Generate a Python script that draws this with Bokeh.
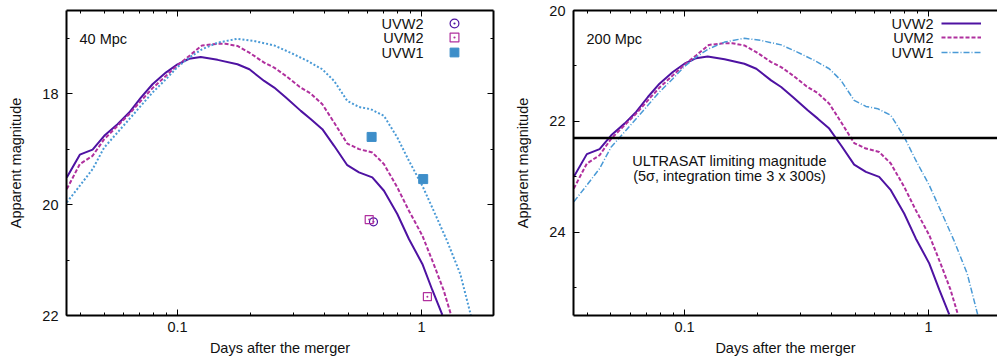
from bokeh.plotting import figure
from bokeh.models import (Range1d, LinearAxis, LogAxis, FixedTicker, SingleIntervalTicker,
                          Span, Label, Legend, LegendItem, CustomJSTickFormatter)
from bokeh.layouts import row
from bokeh.embed import file_html
from bokeh.resources import INLINE

FONT = "Liberation Sans"
FS = "14.5px"
C_W2 = "#4e12a2"
C_M2 = "#b0309e"
C_W1 = "#4a9ad6"
C_W1_PT = "#3d8ec9"

# ---------------- data ----------------
# 40 Mpc model light curves (days, apparent magnitude)
t_w2 = [0.0352, 0.0398, 0.0449, 0.0501, 0.0568, 0.0634, 0.0708, 0.079, 0.0896, 0.1, 0.1116,
        0.1245, 0.146, 0.176, 0.197, 0.2265, 0.249, 0.278, 0.32, 0.352, 0.392, 0.438, 0.496,
        0.554, 0.628, 0.701, 0.795, 0.887, 1.007, 1.106, 1.216]
m_w2_40 = [19.51, 19.10, 19.01, 18.76, 18.55, 18.34, 18.07, 17.83, 17.62, 17.47, 17.37,
           17.34, 17.39, 17.47, 17.56, 17.77, 17.89, 18.07, 18.31, 18.46, 18.64, 18.94, 19.29,
           19.42, 19.51, 19.75, 20.17, 20.62, 21.07, 21.54, 21.99]
m_w2_200 = [23.00, 22.59, 22.50, 22.25, 22.04, 21.83, 21.56, 21.32, 21.11, 20.96, 20.86,
            20.83, 20.88, 20.96, 21.05, 21.26, 21.38, 21.56, 21.80, 21.95, 22.13, 22.43, 22.78,
            22.91, 23.00, 23.24, 23.66, 24.11, 24.56, 25.03, 25.48]

t_m2 = [0.0352, 0.0398, 0.0449, 0.0501, 0.0568, 0.0634, 0.0708, 0.079, 0.0896, 0.1, 0.1116,
        0.126, 0.146, 0.157, 0.176, 0.197, 0.2265, 0.249, 0.278, 0.317, 0.352, 0.392, 0.438,
        0.496, 0.554, 0.628, 0.701, 0.795, 0.887, 1.007, 1.12, 1.23, 1.32]
m_m2_40 = [19.72, 19.27, 19.12, 18.82, 18.58, 18.37, 18.13, 17.90, 17.68, 17.49, 17.32,
           17.13, 17.10, 17.10, 17.14, 17.26, 17.44, 17.53, 17.68, 17.88, 18.00, 18.19, 18.52,
           18.90, 19.00, 19.06, 19.27, 19.69, 20.11, 20.56, 21.07, 21.54, 21.99]
m_m2_200 = [23.21, 22.76, 22.61, 22.31, 22.07, 21.86, 21.62, 21.39, 21.17, 20.98, 20.81,
            20.62, 20.59, 20.59, 20.63, 20.75, 20.93, 21.02, 21.17, 21.37, 21.49, 21.68, 22.01,
            22.39, 22.49, 22.55, 22.76, 23.18, 23.60, 24.05, 24.56, 25.03, 25.48]

t_w1 = [0.0352, 0.0398, 0.0449, 0.0501, 0.0568, 0.0634, 0.0708, 0.079, 0.0896, 0.1, 0.1116,
        0.126, 0.146, 0.176, 0.206, 0.249, 0.29, 0.341, 0.392, 0.438, 0.496, 0.554, 0.619,
        0.701, 0.795, 0.887, 1.007, 1.12, 1.27, 1.44, 1.59]
m_w1_40 = [19.96, 19.66, 19.36, 18.97, 18.70, 18.46, 18.22, 17.98, 17.74, 17.52, 17.35,
           17.20, 17.08, 17.01, 17.05, 17.13, 17.26, 17.41, 17.56, 17.77, 18.13, 18.24, 18.28,
           18.40, 18.79, 19.21, 19.66, 20.11, 20.65, 21.25, 21.99]
m_w1_200 = [23.45, 23.15, 22.85, 22.46, 22.19, 21.95, 21.71, 21.47, 21.23, 21.01, 20.84,
            20.69, 20.57, 20.50, 20.54, 20.62, 20.75, 20.90, 21.05, 21.26, 21.62, 21.73, 21.77,
            21.89, 22.28, 22.70, 23.15, 23.60, 24.14, 24.74, 25.48]

# Swift/UVOT observations (40 Mpc panel)
obs_w2_t = [0.635]
obs_w2_m = [20.31]
obs_m2_t = [0.61, 1.056]
obs_m2_m = [20.27, 21.66]
obs_w1_t = [0.624, 1.015]
obs_w1_m = [18.78, 19.54]

ULTRASAT_LIMIT = 22.3

X_MAJOR = [0.1, 1]
X_MINOR = [0.04, 0.05, 0.06, 0.07, 0.08, 0.09, 0.2, 0.3, 0.4, 0.5, 0.6, 0.7, 0.8, 0.9, 2]
X_LIMITS_LEFT = (0.0351, 1.97)
X_LIMITS_RIGHT = (0.0351, 1.918)
Y_LIMITS_LEFT = (16.5, 22)
Y_LIMITS_RIGHT = (20, 25.5)

BANDS = ["UVW2", "UVM2", "UVW1"]

# ---------------- helpers ----------------
H = 362
MB_TOP = 10
MB_BOTTOM = 47
FRAME_H = H - MB_TOP - MB_BOTTOM   # 305


def style_axis(ax, show_labels):
    ax.major_tick_in = 6
    ax.major_tick_out = 0
    ax.minor_tick_in = 3
    ax.minor_tick_out = 0
    ax.axis_line_width = 2
    ax.axis_line_color = "black"
    ax.major_tick_line_width = 1
    ax.minor_tick_line_width = 1
    ax.major_label_text_font = FONT
    ax.major_label_text_font_size = FS if show_labels else "1px"
    ax.major_label_text_color = "#111111" if show_labels else None
    ax.axis_label_text_font = FONT
    ax.axis_label_text_font_size = FS
    ax.axis_label_text_font_style = "normal"
    ax.axis_label_text_color = "#111111"


def x_ticker():
    return FixedTicker(ticks=X_MAJOR, minor_ticks=X_MINOR)


def make_fig(xlim, ylim, width, mbl, mbr, mirror_right):
    p = figure(width=width, height=H, x_axis_type="log",
               x_range=Range1d(*xlim), y_range=Range1d(ylim[1], ylim[0]),
               output_backend="svg", toolbar_location=None,
               min_border_left=mbl, min_border_right=mbr,
               min_border_top=MB_TOP, min_border_bottom=MB_BOTTOM)
    p.grid.visible = False
    p.outline_line_color = None
    p.background_fill_color = "white"
    p.border_fill_color = "white"

    xa = p.xaxis[0]
    xa.ticker = x_ticker()
    xa.formatter = CustomJSTickFormatter(code="return String(tick);")
    style_axis(xa, True)
    xa.major_label_standoff = 6
    xa.axis_label = "Days after the merger"
    xa.axis_label_standoff = 5

    ya = p.yaxis[0]
    ya.ticker = SingleIntervalTicker(interval=2, num_minor_ticks=2)
    style_axis(ya, True)
    ya.major_label_standoff = 8
    ya.axis_label = "Apparent magnitude"
    ya.axis_label_standoff = 15

    top = LogAxis(ticker=x_ticker(), major_label_standoff=0)
    style_axis(top, False)
    p.add_layout(top, "above")
    if mirror_right:
        ra = LinearAxis(ticker=SingleIntervalTicker(interval=2, num_minor_ticks=2),
                        major_label_standoff=0)
        style_axis(ra, False)
        p.add_layout(ra, "right")
    return p


def add_text(p, x, y_from_top, text, align="left"):
    p.add_layout(Label(x=x, y=FRAME_H - y_from_top, x_units="screen", y_units="screen",
                       text=text, text_font=FONT, text_font_size=FS, text_color="#111111",
                       text_align=align, text_baseline="middle"))


def key(p, renderer, x_left, y_center_from_top, glyph_width):
    # one legend key (glyph only), placed from the frame's bottom-left corner
    gh = 22
    leg = Legend(items=[LegendItem(label=" ", renderers=[renderer])],
                 location=(x_left, FRAME_H - y_center_from_top - gh / 2),
                 margin=0, padding=0, spacing=0, glyph_height=gh,
                 glyph_width=glyph_width, label_standoff=0,
                 label_text_font_size="1px", label_width=1, label_height=1,
                 border_line_color=None, background_fill_alpha=0)
    p.add_layout(leg, "center")


KEY_ROWS = [13, 27, 42]   # row centres, px below the frame top

# ---------------- left panel: 40 Mpc ----------------
p1 = make_fig(X_LIMITS_LEFT, Y_LIMITS_LEFT, 505, 66, 12, True)
p1.line(t_w2, m_w2_40, line_color=C_W2, line_width=2)
p1.line(t_m2, m_m2_40, line_color=C_M2, line_width=2, line_dash="4 2")
p1.line(t_w1, m_w1_40, line_color=C_W1, line_width=2, line_dash="2 2")
s_w2 = p1.scatter(obs_w2_t, obs_w2_m, marker="circle_dot", size=8, fill_color=None,
                  line_color=C_W2, line_width=1.2)
s_m2 = p1.scatter(obs_m2_t, obs_m2_m, marker="square_dot", size=8, fill_color=None,
                  line_color=C_M2, line_width=1.2)
s_w1 = p1.scatter(obs_w1_t, obs_w1_m, marker="square", size=9, fill_color=C_W1_PT,
                  line_color=C_W1_PT, line_width=1)
for r, yc, name in zip([s_w2, s_m2, s_w1], KEY_ROWS, BANDS):
    key(p1, r, 377, yc, 22)
    add_text(p1, 357, yc, name, "right")
add_text(p1, 13, 28, "40 Mpc")

# ---------------- right panel: 200 Mpc ----------------
p2 = make_fig(X_LIMITS_RIGHT, Y_LIMITS_RIGHT, 492, 68, 0, False)
p2.add_layout(Span(location=ULTRASAT_LIMIT, dimension="width", line_color="black",
                   line_width=2.5))
l_w2 = p2.line(t_w2, m_w2_200, line_color=C_W2, line_width=2)
l_m2 = p2.line(t_m2, m_m2_200, line_color=C_M2, line_width=2, line_dash="4 2")
l_w1 = p2.line(t_w1, m_w1_200, line_color=C_W1, line_width=1.5, line_dash="6 2 1 2")
for r, yc, name in zip([l_w2, l_m2, l_w1], KEY_ROWS, BANDS):
    key(p2, r, 368, yc, 40)
    add_text(p2, 360, yc, name, "right")
add_text(p2, 13, 28, "200 Mpc")
add_text(p2, 156, 150.5, "ULTRASAT limiting magnitude", "center")
add_text(p2, 156, 165, "(5\u03c3, integration time 3 x 300s)", "center")

layout = row(p1, p2)
open("out.html", "w").write(file_html(layout, INLINE))
